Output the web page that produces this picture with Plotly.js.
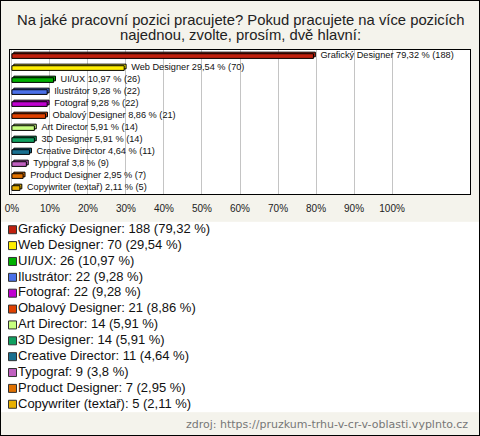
<!DOCTYPE html>
<html>
<head>
<meta charset="utf-8">
<script src="https://cdn.plot.ly/plotly-3.0.1.min.js"></script>
<style>html,body{margin:0;padding:0;background:#f4f3ec;}#chart{width:480px;height:436px;}</style>
</head>
<body>
<div id="chart"></div>
<script>
const categories = ['Grafický Designer','Web Designer','UI/UX','Ilustrátor','Fotograf','Obalový Designer','Art Director','3D Designer','Creative Director','Typograf','Product Designer','Copywriter (textař)'];
const counts = [188,70,26,22,22,21,14,14,11,9,7,5];
const percents = [79.32,29.54,10.97,9.28,9.28,8.86,5.91,5.91,4.64,3.8,2.95,2.11];
const colors = ['#c0200e','#ffee00','#00b000','#4a70e8','#c000d0','#e04000','#c8ff80','#10a060','#1a7090','#c060c0','#e07000','#e8b000'];
const tickVals = [0,10,20,30,40,50,60,70,80,90,100];
const tickText = ['0%','10%','20%','30%','40%','50%','60%','70%','80%','90%','100%'];
const sourceText = 'zdroj: https://pruzkum-trhu-v-cr-v-oblasti.vyplnto.cz';
const titleLines = ['Na jaké pracovní pozici pracujete? Pokud pracujete na více pozicích', 'najednou, zvolte, prosím, dvě hlavní:'];

const pctStr = percents.map(p => String(p).replace('.', ','));
const barLabels = categories.map((c,i) => `\u00a0\u00a0${c} ${pctStr[i]} % (${counts[i]})`);
const legendLabels = categories.map((c,i) => `${c}: ${counts[i]} (${pctStr[i]} %)`);
const idx = categories.map((c,i) => i);
const FONT = 'Liberation Sans, Arial, sans-serif';

const back = {
  type:'bar', orientation:'h', y: idx, x: percents, base: 0.5,
  width: 0.39, offset: -0.32,
  marker:{color: colors, line:{color:'#000', width:1}},
  text: barLabels, textposition:'outside', constraintext:'none', cliponaxis:false,
  textfont:{family:FONT, size:9.2, color:'#111'},
  hoverinfo:'skip', xaxis:'x', yaxis:'y'
};
const front = {
  type:'bar', orientation:'h', y: idx, x: percents,
  width: 0.39, offset: -0.19,
  marker:{color: colors, line:{color:'#000', width:1}},
  hoverinfo:'skip', xaxis:'x', yaxis:'y'
};
const legMarkers = {
  type:'scatter', mode:'markers', x: idx.map(() => 12.5), y: idx,
  marker:{symbol:'square', size:8, color: colors, line:{color:'#333', width:1}},
  xaxis:'x2', yaxis:'y2', hoverinfo:'skip'
};
const legText = {
  type:'scatter', mode:'text', x: idx.map(() => 18), y: idx,
  text: legendLabels, textposition:'middle right',
  textfont:{family:FONT, size:13, color:'#111'},
  xaxis:'x2', yaxis:'y2', hoverinfo:'skip', cliponaxis:false
};

const titleAnnotations = titleLines.map((t,i) => ({
  text:t, xref:'paper', yref:'paper', x:0.5, y:(436-(20+15.5*i))/436,
  xanchor:'center', yanchor:'middle', showarrow:false,
  font:{family:FONT, size:14.8, color:'#222'}
}));

const layout = {
  width:480, height:436, margin:{l:0,r:0,t:0,b:0},
  paper_bgcolor:'#f4f3ec', plot_bgcolor:'#ffffff',
  showlegend:false, barmode:'overlay',
  xaxis:{domain:[10/480,470/480], range:[-0.5,120.5], tickmode:'array', tickvals:tickVals, ticktext:tickText,
         showgrid:true, gridcolor:'#c4c4c4', gridwidth:1, zeroline:false,
         showline:true, mirror:true, linecolor:'#000', linewidth:1, ticks:'', ticklabelstandoff:5,
         tickfont:{family:FONT, size:10, color:'#222'}, fixedrange:true},
  yaxis:{domain:[(436-194)/436,(436-50)/436], range:[11.5,-0.5], showticklabels:false, showgrid:false,
         zeroline:false, showline:true, mirror:true, linecolor:'#000', linewidth:1, ticks:'', fixedrange:true},
  xaxis2:{domain:[0,1], range:[0,480], visible:false, anchor:'y2', fixedrange:true},
  yaxis2:{domain:[(436-412.2)/436,(436-221.8)/436], range:[11.5,-0.5], visible:false, anchor:'x2', fixedrange:true},
  shapes:[{type:'rect', xref:'paper', yref:'paper', x0:0, x1:1, y0:0, y1:1, line:{color:'#000', width:2}}],
  annotations:titleAnnotations.concat([{text:sourceText, xref:'paper', yref:'paper', x:470/480, y:(436-424)/436,
                xanchor:'right', yanchor:'middle', showarrow:false,
                font:{family:'DejaVu Sans, sans-serif', size:11, color:'#777'}}])
};

Plotly.newPlot('chart', [back, front, legMarkers, legText], layout, {staticPlot:true, displayModeBar:false});
</script>
</body>
</html>
